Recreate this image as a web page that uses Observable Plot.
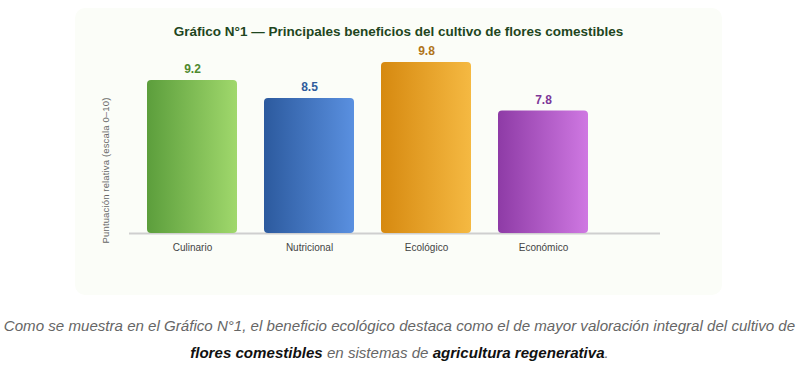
<!DOCTYPE html>
<html lang="es">
<head>
<meta charset="utf-8">
<script src="https://cdn.jsdelivr.net/npm/d3@7"></script>
<script src="https://cdn.jsdelivr.net/npm/@observablehq/plot@0.6"></script>
<style>
html,body{margin:0;padding:0;background:#fff;width:801px;height:367px;overflow:hidden;font-family:"Liberation Sans",Arial,sans-serif}
#panel{position:absolute;left:75px;top:8px;width:647px;height:287px;background:#fbfdf8;border-radius:10px}
#title{position:absolute;left:75px;top:24px;width:647px;margin:0;text-align:center;font:bold 13.5px/16px "Liberation Sans",Arial,sans-serif;color:#1e4620;white-space:nowrap}
#chart{position:absolute;left:0;top:0}
#caption{position:absolute;left:0;top:312px;width:799px;margin:0;text-align:center;font:italic 15.1px/27px "Liberation Sans",Arial,sans-serif;color:#666;white-space:nowrap}
#caption b{color:#111}
svg{background:transparent!important}
</style>
</head>
<body>
<div id="panel"></div>
<h3 id="title">Gráfico N°1 — Principales beneficios del cultivo de flores comestibles</h3>
<div id="chart"></div>
<p id="caption">Como se muestra en el Gráfico N°1, el beneficio ecológico destaca como el de mayor valoración integral del cultivo de<br><b>flores comestibles</b> en sistemas de <b>agricultura regenerativa</b>.</p>
<script>
const categories = ["Culinario", "Nutricional", "Ecológico", "Económico"];
const barHeights = [85, 75, 95, 68];
const scoreLabels = ["9.2", "8.5", "9.8", "7.8"];
const gradientStarts = ["#5c9e3c", "#2c5a9e", "#d68910", "#8e3ba6"];
const gradientEnds = ["#a0d86c", "#5a90e0", "#f5b942", "#cf78e2"];
const labelColors = ["#4f8a2e", "#2f5c9c", "#b0741a", "#7d3798"];
const yLabel = "Puntuación relativa (escala 0–10)";

const rows = categories.map((c, i) => ({c, h: barHeights[i], s: scoreLabels[i], lc: labelColors[i]}));

const plot = Plot.plot({
  width: 801, height: 295,
  marginTop: 53, marginBottom: 62, marginLeft: 129, marginRight: 141,
  style: {background: "transparent", fontFamily: '"Liberation Sans",Arial,sans-serif'},
  x: {type: "band", domain: categories, range: [147, 588], paddingInner: 27 / 117, paddingOuter: 0, axis: null},
  y: {domain: [0, 100], axis: null},
  color: {domain: categories, range: categories.map((_, i) => `url(#grad${i})`)},
  marks: [
    Plot.ruleY([0], {stroke: "#cfcfcf", strokeWidth: 2}),
    Plot.barY(rows, {x: "c", y: "h", fill: "c", r: 4}),
    Plot.text(rows, {x: "c", y: "h", text: "s", dy: -11, fill: d => d.lc, fontSize: 12, fontWeight: "bold"}),
    Plot.axisX({domain: categories, tickSize: 0, tickPadding: 10, fontSize: 10, color: "#444", label: null, anchor: "bottom"}),
    Plot.text([yLabel], {frameAnchor: "left", dx: -24, dy: 27, rotate: -90, textAnchor: "middle", fontSize: 9.5, fill: "#666"})
  ]
});

const ns = "http://www.w3.org/2000/svg";
const defs = document.createElementNS(ns, "defs");
categories.forEach((_, i) => {
  const g = document.createElementNS(ns, "linearGradient");
  g.setAttribute("id", `grad${i}`);
  [[0, gradientStarts[i]], [1, gradientEnds[i]]].forEach(([o, col]) => {
    const s = document.createElementNS(ns, "stop");
    s.setAttribute("offset", o);
    s.setAttribute("stop-color", col);
    g.appendChild(s);
  });
  defs.appendChild(g);
});
plot.insertBefore(defs, plot.firstChild);
plot.querySelectorAll("text").forEach(t => { if (t.textContent === yLabel) t.style.letterSpacing = ".15px"; });
document.getElementById("chart").appendChild(plot);
</script>
</body>
</html>
